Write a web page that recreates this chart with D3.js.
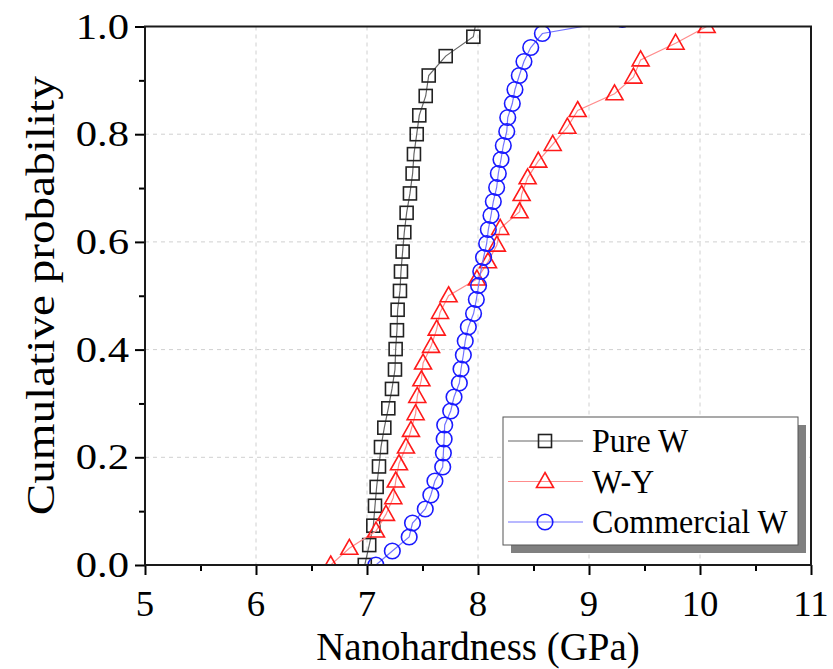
<!DOCTYPE html>
<html>
<head>
<meta charset="utf-8">
<script src="https://cdn.jsdelivr.net/npm/d3@7"></script>
<style>
  html, body { margin: 0; padding: 0; background: #fff; }
  svg { display: block; }
  text { font-family: "Liberation Serif", "Times New Roman", serif; fill: #000; }
</style>
</head>
<body>
<svg id="chart" width="833" height="669"></svg>
<script>
// Nanohardness (GPa) and cumulative probability for each material
const pureX = [6.98, 7.02, 7.057, 7.072, 7.087, 7.108, 7.126, 7.156, 7.192, 7.225, 7.252, 7.258, 7.270, 7.276, 7.297, 7.306, 7.321, 7.336, 7.357, 7.387, 7.411, 7.423, 7.448, 7.471, 7.529, 7.556, 7.709, 7.958, 7.99];
const pureY = [0.0, 0.037, 0.073, 0.110, 0.145, 0.183, 0.219, 0.255, 0.291, 0.327, 0.363, 0.401, 0.436, 0.474, 0.509, 0.545, 0.582, 0.618, 0.654, 0.690, 0.727, 0.763, 0.800, 0.835, 0.871, 0.909, 0.945, 0.981, 1.017];

const wyX = [6.673, 6.841, 7.081, 7.171, 7.237, 7.259, 7.288, 7.351, 7.396, 7.438, 7.453, 7.49, 7.505, 7.577, 7.628, 7.658, 7.735, 7.99, 8.09, 8.17, 8.20, 8.375, 8.393, 8.447, 8.543, 8.673, 8.805, 8.898, 9.23, 9.40, 9.465, 9.78, 10.06];
const wyY = [0.0, 0.031, 0.063, 0.094, 0.125, 0.156, 0.188, 0.219, 0.25, 0.281, 0.313, 0.344, 0.375, 0.406, 0.438, 0.469, 0.5, 0.531, 0.563, 0.594, 0.625, 0.656, 0.688, 0.719, 0.75, 0.781, 0.813, 0.844, 0.875, 0.906, 0.938, 0.969, 1.0];

const comX = [7.08, 7.228, 7.38, 7.41, 7.525, 7.575, 7.612, 7.682, 7.688, 7.695, 7.70, 7.754, 7.784, 7.832, 7.847, 7.868, 7.885, 7.913, 7.96, 7.985, 8.005, 8.025, 8.05, 8.078, 8.093, 8.117, 8.138, 8.168, 8.183, 8.207, 8.228, 8.259, 8.268, 8.309, 8.333, 8.372, 8.414, 8.475, 8.58, 9.3];
const comY = [0.0, 0.026, 0.052, 0.078, 0.104, 0.130, 0.156, 0.182, 0.208, 0.234, 0.260, 0.286, 0.312, 0.338, 0.364, 0.390, 0.416, 0.442, 0.467, 0.493, 0.519, 0.545, 0.571, 0.597, 0.623, 0.649, 0.675, 0.701, 0.727, 0.753, 0.779, 0.805, 0.831, 0.857, 0.883, 0.909, 0.935, 0.961, 0.987, 1.013];

const seriesNames = ["Pure W", "W-Y", "Commercial W"];
const xTicks = [5, 6, 7, 8, 9, 10, 11];
const yTicks = [0.0, 0.2, 0.4, 0.6, 0.8, 1.0];
const xTitle = "Nanohardness (GPa)";
const yTitle = "Cumulative probability";

const series = [
  { name: seriesNames[0], xs: pureX, ys: pureY, symbol: "square",   stroke: "#222", line: "#666" },
  { name: seriesNames[1], xs: wyX,   ys: wyY,   symbol: "triangle", stroke: "#ff1a1a", line: "#ff8c8c" },
  { name: seriesNames[2], xs: comX,  ys: comY,  symbol: "circle",   stroke: "#1a1aff", line: "#7373ff" }
];

const svg = d3.select("#chart");
const L = 145, R = 811, T = 26.5, B = 565;

const x = d3.scaleLinear().domain([5, 11]).range([L, R]);
const y = d3.scaleLinear().domain([0, 1]).range([B, T]);

// dashed grid at interior major ticks
const grid = svg.append("g");
grid.selectAll("line.gx").data(xTicks.slice(1, -1)).join("line")
  .attr("x1", d => x(d)).attr("x2", d => x(d)).attr("y1", T).attr("y2", B)
  .attr("stroke", "#d0d0d0").attr("stroke-width", 1).attr("stroke-dasharray", "4,4");
grid.selectAll("line.gy").data(yTicks.slice(1, -1)).join("line")
  .attr("x1", L).attr("x2", R).attr("y1", d => y(d)).attr("y2", d => y(d))
  .attr("stroke", "#d0d0d0").attr("stroke-width", 1).attr("stroke-dasharray", "4,4");

// axes: major and minor ticks, labels drawn separately
const xMinor = d3.range(5.5, 11, 1);
const yMinor = d3.range(0.1, 1, 0.2);
function styleAxis(g) {
  g.select(".domain").remove();
  g.selectAll(".tick line").attr("stroke", "#000").attr("stroke-width", 2);
  g.selectAll(".tick text").remove();
}
svg.append("g").attr("transform", `translate(0,${B})`)
  .call(d3.axisBottom(x).tickValues(xTicks).tickSize(10)).call(styleAxis);
svg.append("g").attr("transform", `translate(0,${B})`)
  .call(d3.axisBottom(x).tickValues(xMinor).tickSize(6)).call(styleAxis);
svg.append("g").attr("transform", `translate(${L},0)`)
  .call(d3.axisLeft(y).tickValues(yTicks).tickSize(10)).call(styleAxis);
svg.append("g").attr("transform", `translate(${L},0)`)
  .call(d3.axisLeft(y).tickValues(yMinor).tickSize(6)).call(styleAxis);

// tick labels
svg.append("g").selectAll("text").data(xTicks).join("text")
  .attr("transform", d => `translate(${x(d)},${B + 51}) scale(1.05,1.02)`)
  .attr("text-anchor", "middle").attr("font-size", 35).text(d => d);
svg.append("g").selectAll("text").data(yTicks).join("text")
  .attr("transform", d => `translate(${L - 16},${y(d) + 12}) scale(1.22,1.0)`)
  .attr("text-anchor", "end").attr("font-size", 35).text(d => d.toFixed(1));

// axis titles
svg.append("text")
  .attr("transform", `translate(${(L + R) / 2},${B + 95}) scale(1,1.04)`)
  .attr("text-anchor", "middle").attr("font-size", 39).text(xTitle);
svg.append("text")
  .attr("transform", `translate(54,${(T + B) / 2}) rotate(-90) scale(1.18,1)`)
  .attr("text-anchor", "middle").attr("font-size", 40).text(yTitle);

// data, clipped to the plotting frame
svg.append("defs").append("clipPath").attr("id", "plotClip")
  .append("rect").attr("x", L).attr("y", T).attr("width", R - L).attr("height", B - T);
const plot = svg.append("g").attr("clip-path", "url(#plotClip)");

function drawMarker(sel, symbol, stroke) {
  if (symbol === "square") {
    sel.append("rect").attr("x", -6.5).attr("y", -6.5).attr("width", 13).attr("height", 13)
      .attr("fill", "none").attr("stroke", stroke).attr("stroke-width", 1.6);
  } else if (symbol === "triangle") {
    sel.append("path").attr("d", "M0,-9 L8.5,6 L-8.5,6 Z")
      .attr("fill", "none").attr("stroke", stroke).attr("stroke-width", 1.6);
  } else {
    sel.append("circle").attr("r", 7.8)
      .attr("fill", "none").attr("stroke", stroke).attr("stroke-width", 1.6);
  }
}

const lineGen = d3.line().x(d => x(d[0])).y(d => y(d[1]));
series.forEach(s => {
  const pts = s.xs.map((v, i) => [v, s.ys[i]]);
  plot.append("path").datum(pts).attr("d", lineGen)
    .attr("fill", "none").attr("stroke", s.line).attr("stroke-width", 1.2);
  plot.append("g").selectAll("g").data(pts).join("g")
    .attr("transform", d => `translate(${x(d[0])},${y(d[1])})`)
    .each(function () { drawMarker(d3.select(this), s.symbol, s.stroke); });
});

// frame
svg.append("rect").attr("x", L).attr("y", T).attr("width", R - L).attr("height", B - T)
  .attr("fill", "none").attr("stroke", "#1a1a1a").attr("stroke-width", 2);

// legend with drop shadow
const lg = svg.append("g");
lg.append("rect").attr("x", 511).attr("y", 425).attr("width", 295).attr("height", 128).attr("fill", "#808080");
lg.append("rect").attr("x", 503).attr("y", 417).attr("width", 295).attr("height", 128)
  .attr("fill", "#fff").attr("stroke", "#555").attr("stroke-width", 1);
const rowY = d3.scalePoint().domain(seriesNames).range([441, 522]);
series.forEach(s => {
  const yy = rowY(s.name);
  lg.append("line").attr("x1", 508).attr("x2", 583).attr("y1", yy).attr("y2", yy)
    .attr("stroke", s.line).attr("stroke-width", 1.2);
  const m = lg.append("g").attr("transform", `translate(545,${yy})`);
  drawMarker(m, s.symbol, s.stroke);
  lg.append("text").attr("transform", `translate(592,${yy + 11}) scale(1,1.08)`)
    .attr("font-size", 32).text(s.name);
});
</script>
</body>
</html>
